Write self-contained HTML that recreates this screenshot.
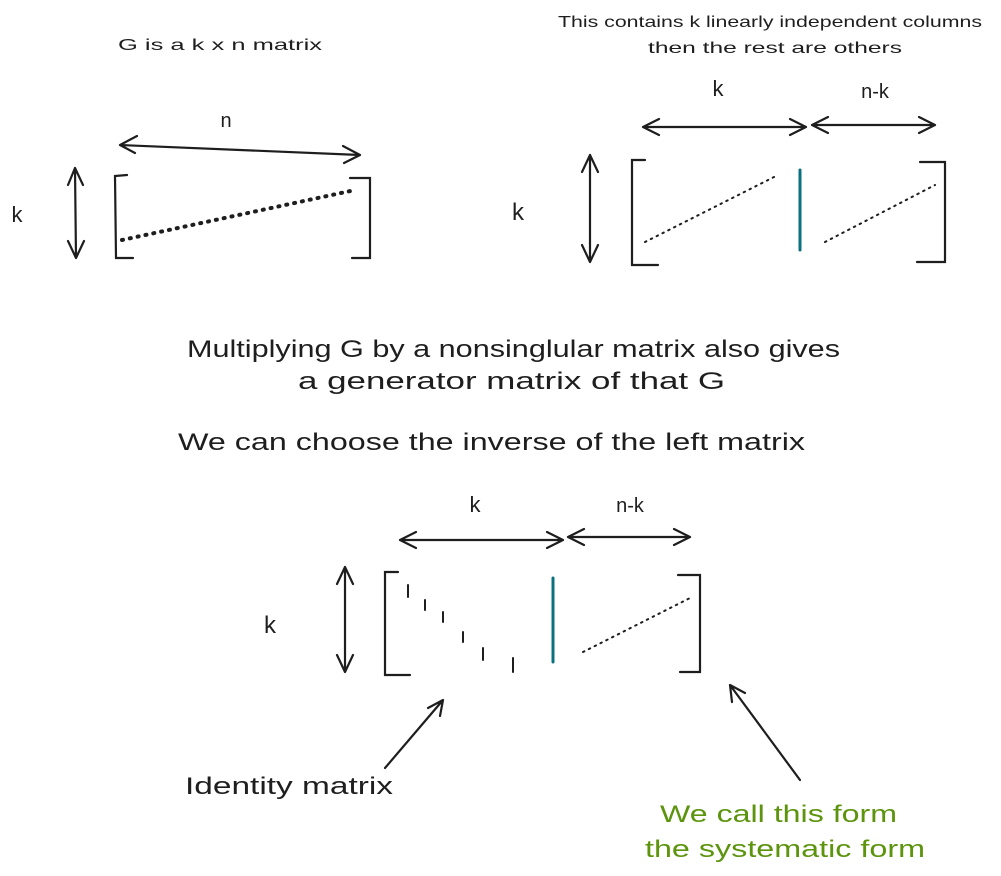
<!DOCTYPE html>
<html><head><meta charset="utf-8"><style>
html,body{margin:0;padding:0;background:#fff;}
svg{display:block;font-family:"Liberation Sans",sans-serif;}
.s{stroke:#1e1e1e;stroke-width:2.2;fill:none;stroke-linecap:round;}
.d{stroke:#1e1e1e;stroke-width:2;fill:none;stroke-dasharray:1.5 5;stroke-linecap:round;}
.t{fill:#1e1e1e;}
</style></head><body>
<svg width="1001" height="876" viewBox="0 0 1001 876">
<!-- Top-left -->
<text class="t" x="118" y="50" font-size="16" textLength="204" lengthAdjust="spacingAndGlyphs">G is a k x n matrix</text>
<g>
<path class="s" d="M120 145 L360 155 M120 145 L137 136 M120 145 L135 153 M360 155 L343 146 M360 155 L344 163"/></g>
<text class="t" x="226" y="127" font-size="20" text-anchor="middle">n</text>
<g>
<path class="s" d="M75 168 L76 258 M75 168 L68 185 M75 168 L83 185 M76 258 L68 241 M76 258 L84 241"/></g>
<text class="t" x="17" y="222" font-size="22" text-anchor="middle">k</text>
<g>
<path class="s" d="M127 175 L115 176 L116 258 L133 258 M350 178 L370 178 L370 258 L352 258"/>
<path class="d" style="stroke-width:4;stroke-dasharray:1 7" d="M122 240 L355 190"/></g>

<!-- Top-right -->
<text class="t" x="558" y="27" font-size="16" textLength="424" lengthAdjust="spacingAndGlyphs">This contains k linearly independent columns</text>
<text class="t" x="648" y="53" font-size="16" textLength="254" lengthAdjust="spacingAndGlyphs">then the rest are others</text>
<text class="t" x="718" y="96" font-size="22" text-anchor="middle">k</text>
<text class="t" x="875" y="98" font-size="20" text-anchor="middle">n-k</text>
<g><path class="s" d="M643 127 L806 127 M643 127 L659 119 M643 127 L659 135 M806 127 L790 119 M806 127 L790 135"/></g>
<g><path class="s" d="M812 125 L935 125 M812 125 L828 117 M812 125 L828 133 M935 125 L919 117 M935 125 L919 133"/></g>
<g><path class="s" d="M590 155 L590 262 M590 155 L582 172 M590 155 L598 172 M590 262 L582 245 M590 262 L598 245"/></g>
<text class="t" x="518" y="220" font-size="24" text-anchor="middle">k</text>
<g>
<path class="s" d="M645 160 L632 160 L632 265 L658 265 M920 162 L945 162 L945 262 L917 262"/>
<path class="s" style="stroke:#0c7080;stroke-width:3" d="M800 170 L800 250"/>
<path class="d" d="M645 242 L778 175"/>
<path class="d" d="M825 242 L935 185"/></g>

<!-- Middle text -->
<text class="t" x="187" y="357" font-size="24" textLength="653" lengthAdjust="spacingAndGlyphs">Multiplying G by a nonsinglular matrix also gives</text>
<text class="t" x="298" y="389" font-size="24" textLength="427" lengthAdjust="spacingAndGlyphs">a generator matrix of that G</text>
<text class="t" x="178" y="450" font-size="24" textLength="627" lengthAdjust="spacingAndGlyphs">We can choose the inverse of the left matrix</text>

<!-- Bottom -->
<text class="t" x="475" y="512" font-size="22" text-anchor="middle">k</text>
<text class="t" x="630" y="512" font-size="20" text-anchor="middle">n-k</text>
<g><path class="s" d="M400 540 L563 540 M400 540 L416 532 M400 540 L416 548 M563 540 L547 532 M563 540 L547 548"/></g>
<g><path class="s" d="M568 537 L690 537 M568 537 L584 529 M568 537 L584 545 M690 537 L674 529 M690 537 L674 545"/></g>
<g><path class="s" d="M345 567 L345 672 M345 567 L337 584 M345 567 L353 584 M345 672 L337 655 M345 672 L353 655"/></g>
<text class="t" x="270" y="633" font-size="24" text-anchor="middle">k</text>
<g>
<path class="s" d="M398 572 L385 572 L385 675 L410 675 M678 575 L700 575 L700 672 L680 672"/>
<path class="s" style="stroke-width:2" d="M408 585 L408 597 M425 600 L425 610 M443 612 L443 622 M463 632 L463 642 M483 648 L483 660 M513 658 L513 672"/>
<path class="s" style="stroke:#0c7080;stroke-width:3" d="M553 578 L553 662"/>
<path class="d" d="M583 652 L690 598"/></g>
<g><path class="s" d="M385 768 L443 700 M443 700 L428 708 M443 700 L440 716"/></g>
<text class="t" x="185" y="794" font-size="24" textLength="208" lengthAdjust="spacingAndGlyphs">Identity matrix</text>
<g><path class="s" d="M800 780 L730 685 M730 685 L732 702 M730 685 L745 693"/></g>
<text x="660" y="822" font-size="24" fill="#5c940d" textLength="237" lengthAdjust="spacingAndGlyphs">We call this form</text>
<text x="645" y="857" font-size="24" fill="#5c940d" textLength="280" lengthAdjust="spacingAndGlyphs">the systematic form</text>
</svg>
</body></html>
